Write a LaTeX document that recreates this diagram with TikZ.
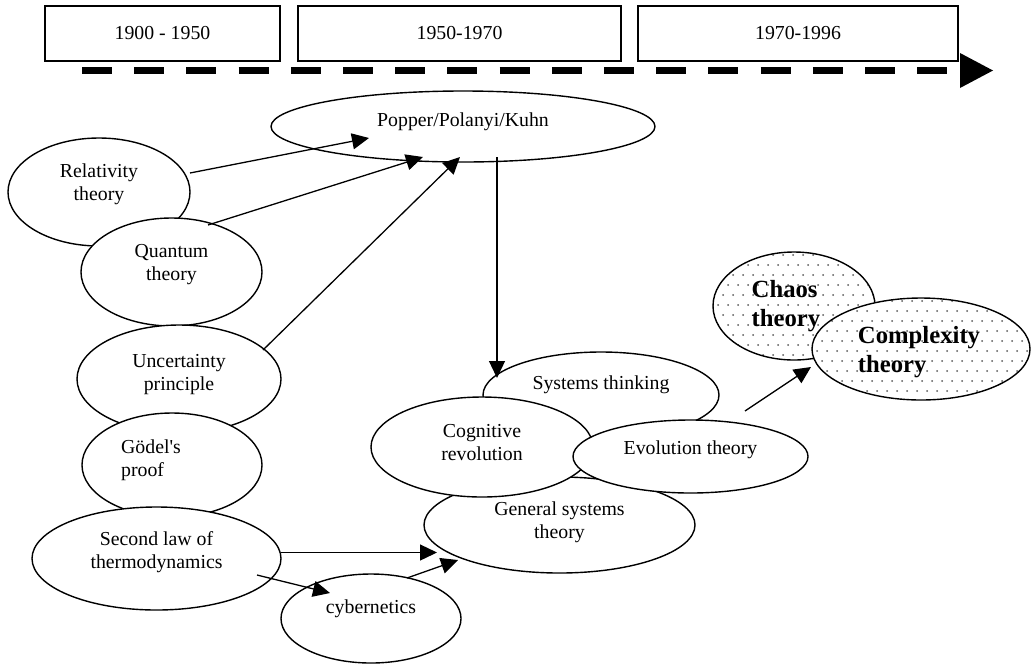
\documentclass[tikz,border=0pt]{standalone}
\usepackage{fontspec}
\setmainfont{Liberation Serif}
\usetikzlibrary{shapes.geometric,arrows.meta,calc}
\tikzset{
    lbl/.style={align=center, inner sep=0pt, font=\fontsize{19.8}{23}\selectfont},
    blbl/.style={lbl, align=left, font=\fontsize{24.7}{28.5}\selectfont\bfseries},
    period/.style={draw, line width=1.4pt, inner sep=0pt, minimum height=55pt, font=\fontsize{19.8}{23}\selectfont},
    bubble/.style 2 args={ellipse, draw, fill=white, line width=1.4pt, inner sep=0pt, minimum width=#1pt, minimum height=#2pt},
    speckle/.style 2 args={bubble={#1}{#2}, path picture={
        \foreach \r [evaluate=\r as \o using {mod(\r,2)*5}] in {0,...,11}
            \foreach \c in {0,...,23}
                \fill[black!65] ([shift={(\c*10+\o,\r*10+3)}]path picture bounding box.north west) circle (1pt);
    }},
    arr/.style={-{Triangle[length=17pt,width=16pt]}, line width=1.3pt},
}
\begin{document}
\begin{tikzpicture}[x=1pt,y=-1pt]
    \useasboundingbox (0,0) rectangle (1032,665);
    \node[period, minimum width=235pt] (t1) at (162.5,33.5) {1900 - 1950};
    \node[period, minimum width=323pt] (t2) at (459.5,33.5) {1950-1970};
    \node[period, minimum width=320pt] (t3) at (798,33.5) {1970-1996};
    \coordinate (tl0) at (82,70.5);
    \coordinate (tl1) at (947,70.5);
    \draw[line width=7.5pt, dash pattern=on 30pt off 22.2pt] (tl0) -- (tl1);
    \fill ($(tl1)+(13,-17.5)$) -- ($(tl1)+(46,0)$) -- ($(tl1)+(13,17.5)$) -- cycle;

    \node[bubble={384}{71}, label={[lbl,yshift=5pt]center:Popper/Polanyi/Kuhn}] (pop) at (463,126.5) {};
    \node[bubble={182}{108}, label={[lbl,yshift=7.5pt]center:{Relativity\\theory}}] (rel) at (99,192) {};
    \node[bubble={181}{108}, label={[lbl,yshift=7pt]center:{Quantum\\theory}}] (qua) at (171.5,272) {};
    \node[bubble={204}{108}, label={[lbl,yshift=4pt]center:{Uncertainty\\principle}}] (unc) at (179,379) {};
    \node[bubble={180}{104}, label={[lbl,align=left,xshift=-21pt,yshift=4.5pt]center:{G\"odel\textquotesingle s\\proof}}] (god) at (172,465) {};
    \node[bubble={249}{103}, label={[lbl,yshift=6pt]center:{Second law of\\thermodynamics}}] (sec) at (156.5,558.5) {};
    \node[bubble={180}{89}, label={[lbl,yshift=10pt]center:cybernetics}] (cyb) at (371,618.5) {};
    \node[bubble={236}{86}, label={[lbl,yshift=10pt]center:Systems thinking}] (sys) at (601,395) {};
    \node[bubble={271}{96}, label={[lbl,yshift=2.5pt]center:{General systems\\theory}}] (gen) at (559.5,525) {};
    \node[bubble={222}{100}, label={[lbl,yshift=4pt]center:{Cognitive\\revolution}}] (cog) at (482,447) {};
    \node[bubble={235}{73}, label={[lbl,yshift=6.5pt]center:Evolution theory}] (evo) at (690.5,456.5) {};
    \node[speckle={162}{108}, label={[blbl,xshift=-8pt]center:{Chaos\\theory}}] (cha) at (794,306) {};
    \node[speckle={218}{102}, label={[blbl,xshift=-2pt,yshift=-3pt]center:{Complexity\\theory}}] (cpx) at (921,349) {};

    \draw[arr] ($(rel)+(91,-19)$) -- ($(pop)+(-94,11.5)$);
    \draw[arr] ($(qua)+(36.5,-47)$) -- ($(pop)+(-40,30.5)$);
    \draw[arr] ($(unc)+(84,-29)$) -- ($(pop)+(-3,30.5)$);
    \draw[arr] ($(pop)+(34,30.5)$) -- ($(sys)+(-104,-17)$);
    \draw[arr] ($(sec)+(124.5,-6)$) -- ($(gen)+(-122.5,27.5)$);
    \draw[arr] ($(sec)+(100.5,16.5)$) -- ($(cyb)+(-41,-25.5)$);
    \draw[arr] ($(cyb)+(36,-40.5)$) -- ($(gen)+(-101.5,35)$);
    \draw[arr] ($(evo)+(54.5,-45.5)$) -- ($(cpx)+(-110,18)$);
\end{tikzpicture}
\end{document}
